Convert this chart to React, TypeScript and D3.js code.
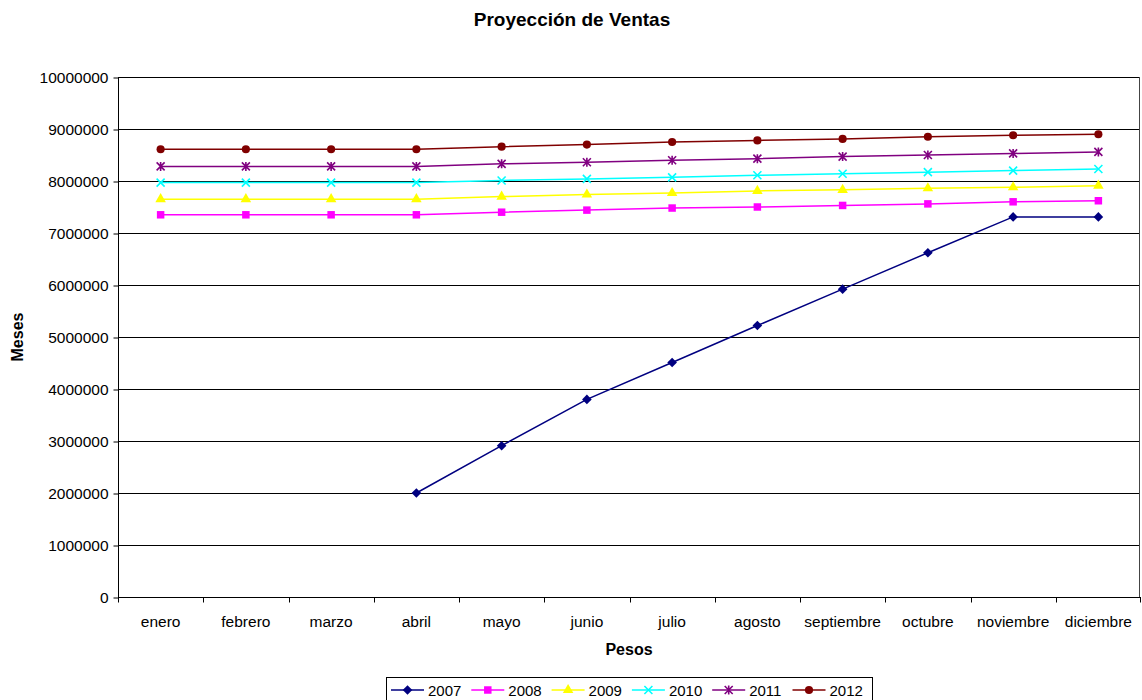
import React, { useEffect, useRef } from "react";
import * as d3 from "d3";

const months = [
  "enero", "febrero", "marzo", "abril", "mayo", "junio",
  "julio", "agosto", "septiembre", "octubre", "noviembre", "diciembre",
];

const yTicks = [0, 1000000, 2000000, 3000000, 4000000, 5000000, 6000000, 7000000, 8000000, 9000000, 10000000];

const years = ["2007", "2008", "2009", "2010", "2011", "2012"];

const ventas2007: (number | null)[] = [null, null, null, 2000000, 2910000, 3800000, 4510000, 5220000, 5920000, 6620000, 7310000, 7310000];
const ventas2008 = [7350000, 7350000, 7350000, 7350000, 7400000, 7440000, 7480000, 7500000, 7530000, 7560000, 7600000, 7620000];
const ventas2009 = [7650000, 7650000, 7650000, 7650000, 7700000, 7740000, 7770000, 7810000, 7830000, 7860000, 7880000, 7910000];
const ventas2010 = [7970000, 7970000, 7970000, 7970000, 8010000, 8040000, 8070000, 8110000, 8140000, 8170000, 8200000, 8230000];
const ventas2011 = [8280000, 8280000, 8280000, 8280000, 8330000, 8360000, 8400000, 8430000, 8470000, 8500000, 8530000, 8560000];
const ventas2012 = [8610000, 8610000, 8610000, 8610000, 8660000, 8700000, 8750000, 8780000, 8810000, 8850000, 8880000, 8900000];

const seriesValues = [ventas2007, ventas2008, ventas2009, ventas2010, ventas2011, ventas2012];
const seriesColors = ["#000080", "#FF00FF", "#FFFF00", "#00FFFF", "#800080", "#800000"];
const seriesMarkers = ["diamond", "square", "triangle", "x", "star", "circle"];

const W = 1142;
const H = 700;
const margin = { left: 118, right: 1, top: 77, bottom: 103 };
const FONT = "'Liberation Sans', Arial, sans-serif";
const TICK_FONT = 15.5;

function drawMarker(
  g: d3.Selection<SVGGElement, unknown, null, undefined>,
  kind: string,
  color: string,
  x: number,
  y: number
) {
  const t = `translate(${x},${y})`;
  if (kind === "diamond") {
    g.append("path").attr("transform", t).attr("d", "M0,-4.8L4.8,0L0,4.8L-4.8,0Z").attr("fill", color);
  } else if (kind === "square") {
    g.append("path").attr("transform", t).attr("d", d3.symbol(d3.symbolSquare, 56)()).attr("fill", color);
  } else if (kind === "triangle") {
    g.append("path").attr("transform", t).attr("d", d3.symbol(d3.symbolTriangle, 48)()).attr("fill", color);
  } else if (kind === "circle") {
    g.append("path").attr("transform", t).attr("d", d3.symbol(d3.symbolCircle, 52)()).attr("fill", color);
  } else if (kind === "x") {
    g.append("path").attr("transform", t).attr("d", "M-4,-4L4,4M-4,4L4,-4").attr("stroke", color).attr("stroke-width", 1.6).attr("fill", "none");
  } else if (kind === "star") {
    g.append("path").attr("transform", t).attr("d", "M-4,-4L4,4M-4,4L4,-4M0,-4.5L0,4.5").attr("stroke", color).attr("stroke-width", 1.6).attr("fill", "none");
  }
}

export default function App() {
  const ref = useRef<SVGSVGElement>(null);

  useEffect(() => {
    const svg = d3.select(ref.current!);
    svg.selectAll("*").remove();

    const x = d3.scaleBand<string>().domain(months).range([margin.left, W - margin.right]);
    const y = d3.scaleLinear().domain([0, 10000000]).range([H - margin.bottom, margin.top]);

    // Title
    svg.append("text")
      .attr("x", 572).attr("y", 26)
      .attr("text-anchor", "middle")
      .attr("font-family", FONT).attr("font-weight", "bold").attr("font-size", 19)
      .text("Proyección de Ventas");

    // Horizontal gridlines
    svg.append("g").selectAll("line")
      .data(yTicks.filter((d) => d > 0))
      .join("line")
      .attr("x1", margin.left).attr("x2", W - margin.right - 1)
      .attr("y1", (d) => Math.round(y(d)) + 0.5).attr("y2", (d) => Math.round(y(d)) + 0.5)
      .attr("stroke", "#000").attr("stroke-width", 1);

    // Right border of the plot area
    svg.append("line")
      .attr("x1", W - margin.right - 1.5).attr("x2", W - margin.right - 1.5)
      .attr("y1", y(10000000)).attr("y2", y(0))
      .attr("stroke", "#444").attr("stroke-width", 1);

    // Y axis
    const yAxis = d3.axisLeft(y).tickValues(yTicks).tickSize(5).tickPadding(5).tickFormat((d) => String(d));
    const gy = svg.append("g").attr("transform", `translate(${margin.left + 0.5},0.5)`).call(yAxis);
    gy.selectAll("text").attr("font-family", FONT).attr("font-size", TICK_FONT).attr("fill", "#000");
    gy.selectAll("line, path").attr("stroke", "#000");
    gy.select(".domain").attr("d", `M0,${y(10000000)}V${y(0)}`);

    // X axis with ticks at category boundaries
    const gx = svg.append("g").attr("transform", `translate(0,${Math.round(y(0)) + 0.5})`);
    gx.append("line").attr("x1", margin.left).attr("x2", W - margin.right).attr("stroke", "#000");
    const boundaries = months.map((m) => x(m)!).concat([W - margin.right - 1]);
    gx.selectAll("line.tick")
      .data(boundaries)
      .join("line")
      .attr("class", "tick")
      .attr("x1", (d) => Math.round(d) + 0.5).attr("x2", (d) => Math.round(d) + 0.5)
      .attr("y1", 0).attr("y2", 5)
      .attr("stroke", "#000");
    gx.selectAll("text")
      .data(months)
      .join("text")
      .attr("x", (d) => x(d)! + x.bandwidth() / 2)
      .attr("y", 29.5)
      .attr("text-anchor", "middle")
      .attr("font-family", FONT).attr("font-size", TICK_FONT)
      .text((d) => d);

    // Axis titles
    svg.append("text")
      .attr("x", 629).attr("y", 655)
      .attr("text-anchor", "middle")
      .attr("font-family", FONT).attr("font-weight", "bold").attr("font-size", 16)
      .text("Pesos");
    svg.append("text")
      .attr("transform", `translate(22.5,337) rotate(-90)`)
      .attr("text-anchor", "middle")
      .attr("font-family", FONT).attr("font-weight", "bold").attr("font-size", 16)
      .text("Meses");

    // Series lines and markers
    const cx = (i: number) => x(months[i])! + x.bandwidth() / 2;
    seriesValues.forEach((vals, si) => {
      const color = seriesColors[si];
      const line = d3.line<number | null>()
        .defined((d) => d !== null)
        .x((_, i) => cx(i))
        .y((d) => y(d as number));
      const g = svg.append("g");
      g.append("path")
        .datum(vals)
        .attr("d", line)
        .attr("fill", "none")
        .attr("stroke", color)
        .attr("stroke-width", 1.5);
      vals.forEach((v, i) => {
        if (v !== null) drawMarker(g, seriesMarkers[si], color, cx(i), y(v));
      });
    });

    // Legend
    const lg = svg.append("g");
    const lx = 386.5, ly = 677.5, lw = 486, lh = 26;
    lg.append("rect").attr("x", lx).attr("y", ly).attr("width", lw).attr("height", lh)
      .attr("fill", "#fff").attr("stroke", "#000").attr("stroke-width", 1);
    years.forEach((yr, i) => {
      const ix = 391 + i * 80.3;
      const iy = 690;
      const g = lg.append("g");
      g.append("line").attr("x1", ix).attr("x2", ix + 33).attr("y1", iy).attr("y2", iy)
        .attr("stroke", seriesColors[i]).attr("stroke-width", 1.5);
      drawMarker(g, seriesMarkers[i], seriesColors[i], ix + 16.5, iy);
      g.append("text").attr("x", ix + 37).attr("y", iy + 5.5)
        .attr("font-family", FONT).attr("font-size", 15)
        .text(yr);
    });
  }, []);

  return (
    <svg
      ref={ref}
      width={W}
      height={H}
      style={{ position: "absolute", left: 0, top: 0, background: "#fff" }}
    />
  );
}
